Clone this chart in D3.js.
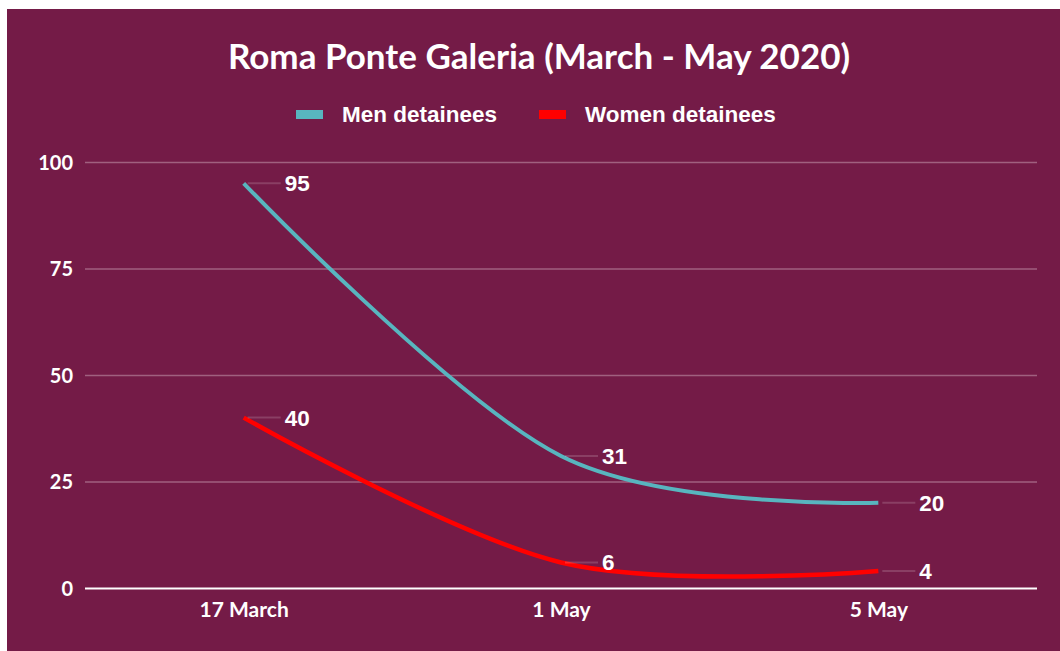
<!DOCTYPE html>
<html>
<head>
<meta charset="utf-8">
<script src="https://cdn.jsdelivr.net/npm/d3@7/dist/d3.min.js"></script>
<style>
  html, body { margin: 0; padding: 0; background: #ffffff; }
  svg { display: block; }
</style>
</head>
<body>
<svg id="chart" width="1060" height="651"></svg>
<script>
const categories = ["17 March", "1 May", "5 May"];
const menValues = [95, 31, 20];
const womenValues = [40, 6, 4];
const seriesNames = ["Men detainees", "Women detainees"];
const yTicks = [0, 25, 50, 75, 100];
const titleText = "Roma Ponte Galeria (March - May 2020)";

const colors = { bg: "#741b47", men: "#58b5bf", women: "#ff0000", grid: "#a0607f", text: "#ffffff" };

const svg = d3.select("#chart");
svg.append("rect").attr("x", 7).attr("y", 9).attr("width", 1053).attr("height", 642).attr("fill", colors.bg);

const plot = { left: 85, right: 1037, top: 162, bottom: 588 };

const x = d3.scalePoint().domain(categories).range([plot.left, plot.right]).padding(0.5);
const y = d3.scaleLinear().domain([0, 100]).range([plot.bottom, plot.top]);

// Title
svg.append("text").attr("x", 539).attr("y", 69).attr("text-anchor", "middle")
  .attr("fill", colors.text).style("font-family", "Lato, sans-serif").style("font-weight", 700)
  .style("font-size", "35px").text(titleText);

// Legend
const legendItems = [
  { name: seriesNames[0], color: colors.men, x: 296 },
  { name: seriesNames[1], color: colors.women, x: 539 }
];
const lg = svg.append("g");
legendItems.forEach(it => {
  lg.append("rect").attr("x", it.x).attr("y", 110).attr("width", 27).attr("height", 9).attr("fill", it.color);
  lg.append("text").attr("x", it.x + 46).attr("y", 122).attr("fill", colors.text)
    .style("font-family", "'Liberation Sans', Arial, sans-serif").style("font-weight", 700)
    .style("font-size", "22.5px").text(it.name);
});

// Y grid + labels
const yAxis = d3.axisLeft(y).tickValues(yTicks).tickSize(-(plot.right - plot.left)).tickPadding(12);
const ga = svg.append("g").attr("transform", `translate(${plot.left},0)`).call(yAxis);
ga.select(".domain").remove();
ga.selectAll(".tick line").attr("stroke", d => d === 0 ? "#ffffff" : colors.grid)
  .attr("stroke-width", d => d === 0 ? 2 : 1.5);
ga.selectAll(".tick text").attr("fill", colors.text).attr("dy", "0.36em")
  .style("font-family", "Lato, sans-serif").style("font-weight", 700).style("font-size", "20px");

// X labels
const xAxis = d3.axisBottom(x).tickSize(0).tickPadding(14);
const gx = svg.append("g").attr("transform", `translate(0,${plot.bottom})`).call(xAxis);
gx.select(".domain").remove();
gx.selectAll(".tick text").attr("fill", colors.text)
  .style("font-family", "Lato, sans-serif").style("font-weight", 700).style("font-size", "21px");

// Lines
const series = [
  { name: seriesNames[0], values: menValues, color: colors.men, width: 4 },
  { name: seriesNames[1], values: womenValues, color: colors.women, width: 4.5 }
];
const line = d3.line().x((d, i) => x(categories[i])).y(d => y(d)).curve(d3.curveCardinal.tension(0));

series.forEach(s => {
  svg.append("path").datum(s.values).attr("d", line).attr("fill", "none")
    .attr("stroke", s.color).attr("stroke-width", s.width).attr("stroke-linecap", "butt");
});

// Data labels with leader lines
series.forEach(s => {
  s.values.forEach((v, i) => {
    const px = x(categories[i]), py = y(v);
    svg.append("line").attr("x1", px + 4).attr("x2", px + 37).attr("y1", py).attr("y2", py)
      .attr("stroke", "rgba(255,255,255,0.16)").attr("stroke-width", 2);
    svg.append("text").attr("x", px + 41).attr("y", py + 8).attr("fill", colors.text)
      .style("font-family", "'Liberation Sans', Arial, sans-serif").style("font-weight", 700)
      .style("font-size", "22.5px").text(v);
  });
});
</script>
</body>
</html>
